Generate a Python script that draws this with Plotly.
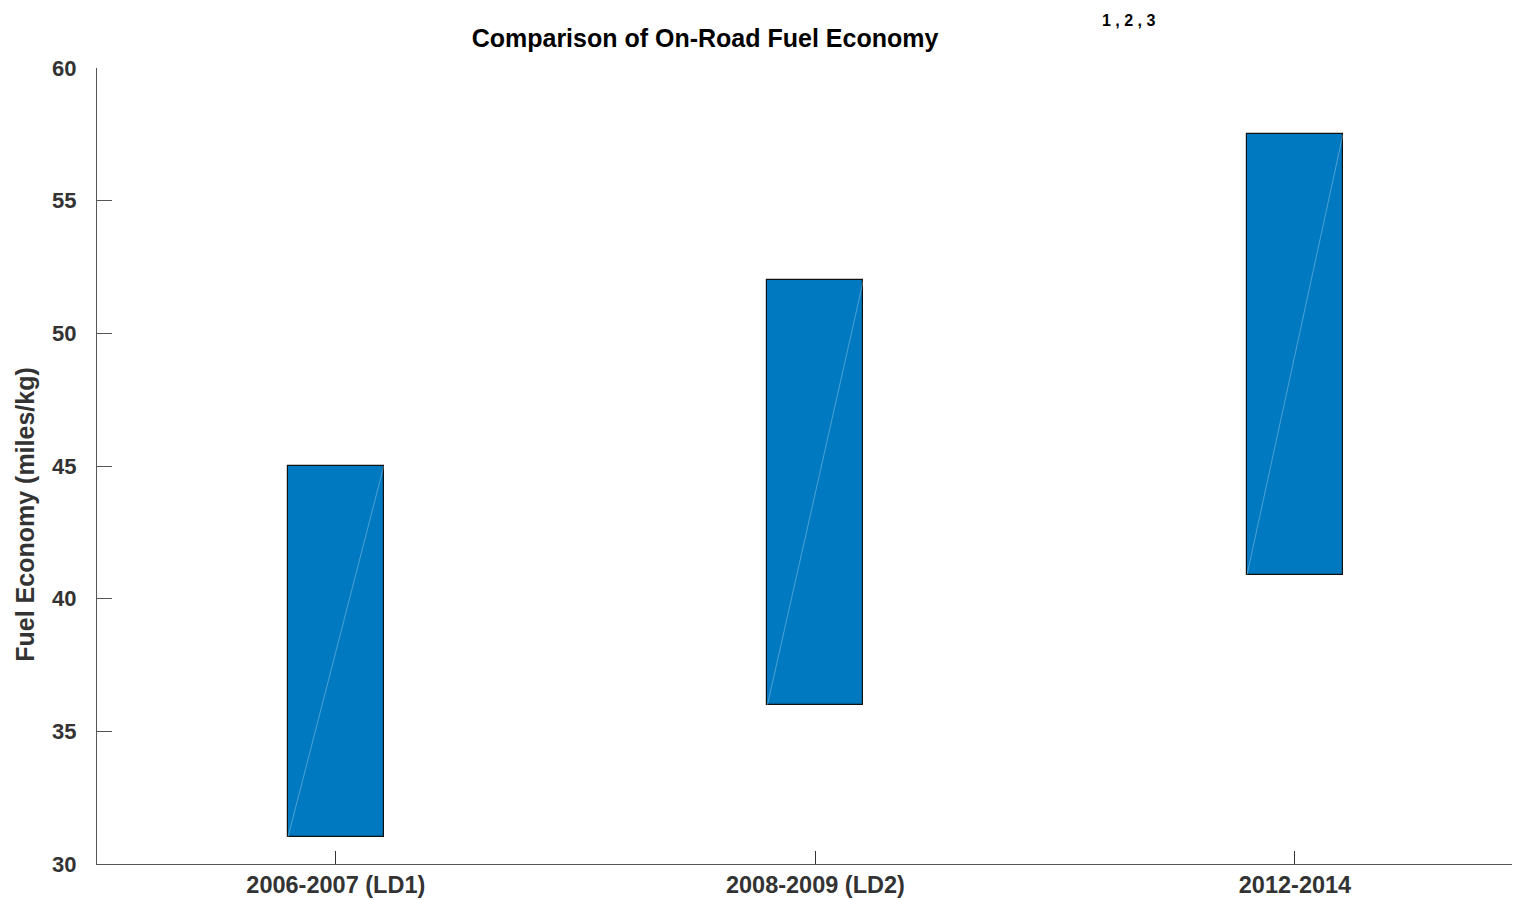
import plotly.graph_objects as go

categories = ["2006-2007 (LD1)", "2008-2009 (LD2)", "2012-2014"]
low_values = [31.0, 36.0, 40.9]
high_values = [45.0, 52.0, 57.5]
y_ticks = [30, 35, 40, 45, 50, 55, 60]

xpos = list(range(len(categories)))
bar_w = 0.2
FONT = "Liberation Sans, Arial, sans-serif"

fig = go.Figure()
fig.add_trace(go.Bar(
    x=xpos,
    y=[h - l for h, l in zip(high_values, low_values)],
    base=low_values,
    width=bar_w,
    marker=dict(color="#0079C1", line=dict(color="#111111", width=1.2)),
    showlegend=False,
    hoverinfo="skip",
))
# faint diagonal rendering artefact inside each bar
for x, lo, hi in zip(xpos, low_values, high_values):
    fig.add_trace(go.Scatter(
        x=[x - bar_w / 2, x + bar_w / 2], y=[lo, hi], mode="lines",
        line=dict(color="rgba(255,255,255,0.3)", width=1),
        showlegend=False, hoverinfo="skip",
    ))

# page has an 8px body margin -> figure coordinates = screen - 8
OFF = 8
W, H = 1512, 892
L, R, T, B = 97 - OFF, 2, 68 - OFF, 32
pw = W - L - R
ph = H - T - B


def px(sx):
    return (sx - OFF - L) / pw


def py(sy):
    return (H - B - (sy - OFF)) / ph


fig.update_layout(
    width=W, height=H,
    margin=dict(l=L, r=R, t=T, b=B),
    paper_bgcolor="white", plot_bgcolor="white",
    font=dict(family=FONT, color="#333333"),
    title=dict(
        text="<b>Comparison of On-Road Fuel Economy</b>",
        font=dict(family=FONT, size=25, color="#000000"),
        xref="container", yref="container",
        x=(705 - OFF) / W, y=1 - (38 - OFF) / H, xanchor="center", yanchor="middle",
    ),
    xaxis=dict(
        range=[-0.498, 2.465],
        tickmode="array", tickvals=xpos, ticktext=[f"<b>{c}</b>" for c in categories],
        ticks="inside", ticklen=13, tickcolor="#333333", tickwidth=1,
        showline=True, linecolor="#555555", linewidth=1,
        showgrid=False, zeroline=False,
        tickfont=dict(family=FONT, size=23.5, color="#333333"),
    ),
    yaxis=dict(
        range=[30, 60],
        tickmode="array", tickvals=y_ticks, ticktext=[f"<b>{v}</b>" for v in y_ticks],
        ticks="inside", ticklen=15, tickcolor="#555555", tickwidth=1,
        ticklabelstandoff=15,
        showline=True, linecolor="#555555", linewidth=1,
        showgrid=False, zeroline=False,
        tickfont=dict(family=FONT, size=22, color="#333333"),
    ),
    bargap=0,
    annotations=[
        dict(
            text="<b>Fuel Economy (miles/kg)</b>", textangle=-90,
            xref="paper", yref="paper",
            x=px(25), y=py(517),
            xanchor="center", yanchor="middle", showarrow=False,
            font=dict(family=FONT, size=25, color="#333333"),
        ),
        dict(
            text="<b>1 , 2 , 3</b>",
            xref="paper", yref="paper",
            x=px(1128), y=py(20),
            xanchor="center", yanchor="middle", showarrow=False,
            font=dict(family=FONT, size=16, color="#000000"),
        ),
    ],
)

fig.write_html("out.html")
